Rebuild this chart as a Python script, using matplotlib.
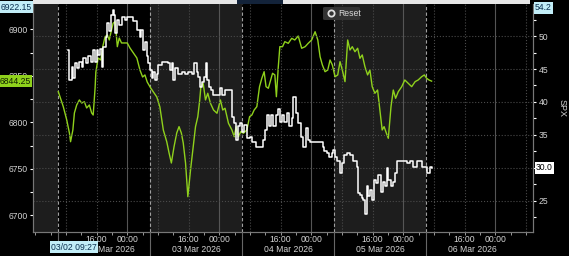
import matplotlib
matplotlib.use("Agg")
import matplotlib.pyplot as plt
from matplotlib.lines import Line2D
from matplotlib.patches import Rectangle, FancyBboxPatch
from matplotlib.ticker import MultipleLocator
from matplotlib.transforms import blended_transform_factory

plt.rcParams["font.family"] = ["Liberation Sans", "DejaVu Sans"]

# time axis: hours since 02 Mar 2026 00:00
spx_t = [
    6.0, 7.3, 8.2, 8.9, 9.2, 9.8, 10.2, 10.8, 11.5, 12.1,
    12.8, 13.4, 14.1, 14.7, 15.1, 15.6, 15.8, 16.4, 17.1, 17.6,
    18.2, 18.8, 19.3, 19.7, 20.3, 20.8, 21.1, 21.4, 21.9, 22.5,
    23.4, 24.0, 24.7, 25.6, 26.5, 27.3, 28.0, 28.6, 29.2, 30.1,
    30.8, 31.7, 32.5, 33.4, 34.3, 34.9, 35.5, 36.2, 36.9, 37.5,
    38.1, 38.6, 39.2, 39.8, 40.5, 41.2, 41.8, 42.4, 42.9, 43.2,
    43.8, 44.4, 45.0, 45.7, 46.5, 47.4, 48.3, 48.9, 49.5, 50.4,
    51.3, 51.9, 52.4, 53.0, 53.6, 54.3, 55.2, 55.9, 56.5, 57.1,
    57.8, 58.5, 59.1, 59.7, 60.2, 60.8, 61.4, 61.9, 62.5, 62.9,
    63.4, 63.8, 64.5, 65.1, 66.0, 66.9, 67.7, 68.6, 69.5, 70.4,
    71.2, 72.1, 73.0, 73.7, 74.3, 74.9, 75.6, 76.3, 76.9, 77.5,
    78.2, 78.9, 79.5, 80.1, 80.8, 81.5, 82.1, 82.7, 83.4, 84.1,
    84.7, 85.3, 86.0, 86.7, 87.3, 87.9, 88.6, 89.3, 89.9, 90.5,
    91.0, 91.6, 92.1, 92.8, 93.4, 94.0, 94.7, 95.6, 96.4, 97.3,
    98.2, 99.1, 99.9, 100.8, 101.5, 102.1, 102.7, 103.4,
]
spx_px = [
    6832.9, 6816.8, 6802.5, 6788.5, 6779.1, 6791.7, 6810.0, 6818.6, 6824.0, 6820.7,
    6822.1, 6815.4, 6818.6, 6810.0, 6807.8, 6836.9, 6854.1, 6869.1, 6867.0, 6881.3,
    6892.0, 6893.9, 6888.5, 6896.0, 6906.5, 6908.2, 6896.0, 6881.3, 6890.6, 6885.3,
    6885.3, 6885.3, 6879.9, 6874.5, 6869.1, 6856.2, 6848.7, 6850.9, 6843.3, 6836.9,
    6832.6, 6827.2, 6816.5, 6791.7, 6779.0, 6767.0, 6756.2, 6773.8, 6788.5, 6795.3,
    6788.5, 6777.7, 6756.2, 6720.0, 6748.7, 6773.8, 6795.3, 6806.0, 6824.0, 6838.3,
    6841.9, 6824.0, 6831.2, 6820.4, 6813.2, 6809.7, 6824.0, 6813.2, 6815.1, 6798.9,
    6791.7, 6784.5, 6795.3, 6784.5, 6789.9, 6788.2, 6791.7, 6806.0, 6807.8, 6813.2,
    6816.8, 6838.3, 6847.3, 6854.4, 6838.3, 6836.6, 6845.5, 6852.7, 6850.9, 6827.5,
    6859.8, 6881.3, 6881.3, 6886.7, 6884.9, 6890.3, 6888.5, 6892.8, 6879.6, 6881.3,
    6884.9, 6888.5, 6897.4, 6888.5, 6870.5, 6861.6, 6854.4, 6856.2, 6867.0, 6861.6,
    6849.0, 6850.9, 6865.2, 6856.2, 6843.7, 6888.5, 6877.7, 6881.3, 6875.9, 6879.6,
    6868.8, 6872.4, 6859.8, 6850.9, 6856.2, 6838.3, 6831.2, 6834.7, 6813.2, 6791.7,
    6795.3, 6788.2, 6782.8, 6816.8, 6834.7, 6825.8, 6832.9, 6838.3, 6845.5, 6841.9,
    6838.3, 6843.7, 6845.5, 6849.0, 6850.9, 6847.3, 6845.5, 6844.25,
]

vix_t = [
    8.6, 8.9, 9.5, 9.9, 10.4, 10.8, 11.5, 12.1, 12.5, 13.2,
    13.8, 14.5, 15.0, 15.6, 16.0, 16.4, 16.9, 17.3, 17.7, 18.4,
    18.8, 19.3, 19.7, 20.2, 20.5, 20.9, 21.4, 21.9, 22.5, 23.4,
    24.0, 24.7, 25.6, 26.3, 26.6, 27.2, 27.5, 28.0, 28.6, 29.1,
    29.5, 29.9, 30.4, 30.8, 31.2, 31.7, 32.1, 33.0, 33.8, 34.5,
    35.1, 35.6, 36.0, 36.5, 37.3, 38.2, 39.1, 39.9, 40.8, 41.5,
    42.1, 42.5, 43.0, 43.6, 44.1, 44.5, 44.7, 45.3, 45.8, 46.4,
    47.3, 48.2, 48.8, 49.5, 50.4, 51.2, 51.4, 51.9, 52.3, 52.8,
    53.4, 53.8, 54.5, 55.2, 56.0, 56.6, 57.5, 58.6, 59.5, 59.9,
    60.4, 61.0, 61.5, 62.1, 62.7, 63.2, 63.8, 64.4, 64.9, 65.6,
    66.2, 66.9, 67.3, 67.9, 68.6, 69.3, 69.9, 70.6, 71.2, 71.7,
    72.5, 73.4, 74.3, 75.0, 75.3, 76.0, 76.7, 77.3, 77.8, 78.2,
    78.8, 79.5, 79.9, 80.5, 81.2, 82.1, 82.8, 83.4, 84.0, 84.3,
    84.7, 85.2, 85.6, 86.0, 86.5, 86.9, 87.3, 87.8, 88.4, 88.9,
    89.5, 90.1, 90.6, 91.2, 91.7, 92.1, 92.7, 93.4, 93.8, 94.4,
    95.1, 96.0, 96.9, 97.7, 98.6, 99.5, 100.3, 101.0, 101.6, 102.1,
    102.9, 103.6,
]
vix_px = [
    47.9, 43.3, 45.3, 43.6, 45.9, 45.2, 46.1, 45.3, 46.6, 45.9,
    46.9, 46.1, 47.9, 46.1, 47.9, 47.1, 48.1, 45.3, 48.4, 49.9,
    51.9, 50.7, 53.2, 53.9, 53.2, 50.4, 52.4, 51.7, 52.9, 52.4,
    52.9, 52.9, 52.2, 52.2, 50.9, 49.9, 50.9, 47.9, 49.1, 46.9,
    45.9, 44.8, 43.6, 44.6, 43.3, 44.3, 45.6, 46.1, 46.1, 45.9,
    44.8, 45.9, 43.3, 45.1, 44.3, 44.6, 44.3, 44.6, 44.3, 45.9,
    44.6, 43.8, 42.3, 43.1, 43.8, 45.9, 43.3, 42.3, 41.8, 41.1,
    41.1, 42.1, 41.1, 41.8, 41.8, 41.8, 37.8, 36.8, 34.2, 36.3,
    36.8, 35.5, 36.5, 34.5, 34.7, 34.0, 33.2, 33.2, 34.2, 35.8,
    38.0, 36.3, 38.0, 36.3, 38.0, 39.0, 37.0, 38.0, 37.0, 38.3,
    36.3, 37.5, 40.8, 38.3, 36.8, 34.7, 33.2, 36.0, 34.2, 34.0,
    34.0, 34.0, 34.0, 33.2, 32.5, 32.2, 31.7, 32.2, 32.7, 31.7,
    31.0, 29.2, 30.7, 32.0, 32.2, 32.0, 31.0, 31.0, 30.2, 26.2,
    25.9, 25.4, 25.2, 23.1, 27.2, 25.7, 26.7, 25.2, 28.2, 27.7,
    28.9, 26.4, 27.9, 27.2, 30.0, 28.2, 27.2, 27.9, 29.2, 31.0,
    31.0, 31.0, 30.7, 31.0, 30.2, 31.0, 31.0, 30.2, 30.2, 29.2,
    30.2, 30.0,
]

day_labels = ["Mar 2026", "03 Mar 2026", "04 Mar 2026", "05 Mar 2026", "06 Mar 2026"]
hour_labels = ["16:00", "00:00"]
left_ticks = [6700, 6750, 6800, 6850, 6900]
right_ticks = [25, 30, 35, 40, 45, 50]

W, H = 569, 256
TXT = "#d4d4d4"
GRID = "#4a4a4a"


def fx(px):
    return px / W


def fy(py):
    return 1 - py / H


fig = plt.figure(figsize=(W / 100, H / 100), dpi=100, facecolor="black")
ax = fig.add_axes([fx(33), fy(232), fx(500), 228 / H])
ax.set_facecolor("black")
ax2 = ax.twinx()

ax.set_xlim(-0.6, 129.85)
ax.set_ylim(6682, 6927.2)
ax2.set_ylim(20.3, 54.85)

# alternating session shading, day boundaries at 06:00
for a, b in [(-0.6, 6), (30, 54), (78, 102)]:
    ax.axvspan(a, b, color="#1d1d1d", zorder=0, lw=0)
for k in range(5):
    ax.axvline(6 + 24 * k, color="#a0a0a0", ls=(0, (3, 2)), lw=0.8, zorder=1)
for k in range(6):
    ax.axvline(8 + 24 * k, color=GRID, ls=":", lw=0.8, zorder=1)
    ax.axvline(16 + 24 * k, color=GRID, ls=":", lw=0.8, zorder=1)
    ax.axvline(24 + 24 * k, color="#555555", lw=0.8, zorder=1)
for v in right_ticks:
    ax2.axhline(v, color=GRID, ls=":", lw=0.8, zorder=0)

ax.plot(spx_t, spx_px, color="#8fd11c", lw=1.0, zorder=3)
ax2.step(vix_t, vix_px, where="post", color="white", lw=1.1, zorder=4)

# axes cosmetics
for a in (ax, ax2):
    a.spines["top"].set_visible(False)
    for side in ("left", "right", "bottom"):
        a.spines[side].set_color("#777777")
        a.spines[side].set_linewidth(0.8)

ax.set_yticks(left_ticks)
ax.yaxis.set_minor_locator(MultipleLocator(25))
ax.tick_params(axis="y", which="both", colors="white", labelcolor=TXT,
               labelsize=6.2, length=2.5, width=0.8, pad=1.5)
ax2.set_yticks(right_ticks)
# the "30" label sits under the last-value tag, as in the terminal view
ax2.set_yticklabels(["" if v == round(vix_px[-1]) else str(v) for v in right_ticks])
ax2.yaxis.set_minor_locator(MultipleLocator(2.5))
ax2.tick_params(axis="y", which="both", colors="white", labelcolor=TXT,
                labelsize=6.2, length=2.5, width=0.8, pad=1.5)

ax.set_xticks([4 * i for i in range(33)])
ax.set_xticklabels([])
ax.tick_params(axis="x", colors="#999999", length=2, width=0.7)

xt = blended_transform_factory(ax.transData, ax.transAxes)
for k in range(5):
    ax.text(16 + 24 * k, -0.032, hour_labels[0], transform=xt, ha="center",
            va="center", color=TXT, fontsize=6.2, clip_on=False)
    ax.text(24 + 24 * k, -0.032, hour_labels[1], transform=xt, ha="center",
            va="center", color=TXT, fontsize=6.2, clip_on=False)
    if k == 0:
        # first date is partly hidden by the cursor time tag
        ax.text(16.4, -0.076, day_labels[k], transform=xt, ha="left",
                va="center", color=TXT, fontsize=6.2, clip_on=False)
    else:
        ax.text(18 + 24 * k, -0.076, day_labels[k], transform=xt, ha="center",
                va="center", color=TXT, fontsize=6.2, clip_on=False)

# separators under the time axis
for k in range(5):
    xpix = 58.3 + 24 * k * 3.833
    top = 240 if k == 0 else 256
    fig.add_artist(Line2D([fx(xpix), fx(xpix)], [fy(232), fy(top)],
                          color="#666666", lw=0.8))

# top strip / navigator
fig.add_artist(Rectangle((fx(33), fy(4)), fx(497), 4 / H, color="#e6e6e6", lw=0))
fig.add_artist(Rectangle((fx(237), fy(4)), fx(46), 4 / H, color="#13233a", lw=0))

# value tags
fig.text(fx(1), fy(7), "6922.15", color="#0b3050", fontsize=6.2, ha="left", va="center",
         bbox=dict(boxstyle="square,pad=0.15", fc="#c2eef8", ec="none"))
fig.text(fx(535), fy(8), "54.2", color="#0b3050", fontsize=6.2, ha="left", va="center",
         bbox=dict(boxstyle="square,pad=0.15", fc="#c2eef8", ec="none"))
yl = blended_transform_factory(ax.transAxes, ax.transData)
ax.text(-0.004, spx_px[-1], f"{spx_px[-1]:.2f}", transform=yl, ha="right", va="center",
        color="#102000", fontsize=6.2, clip_on=False, zorder=10,
        bbox=dict(boxstyle="square,pad=0.15", fc="#8fd11c", ec="none"))
yr = blended_transform_factory(ax2.transAxes, ax2.transData)
ax2.text(1.006, vix_px[-1], f"{vix_px[-1]:.1f}", transform=yr, ha="left", va="center",
         color="black", fontsize=6.2, clip_on=False, zorder=10,
         bbox=dict(boxstyle="square,pad=0.15", fc="white", ec="none"))
fig.text(fx(51), fy(247), "03/02 09:27", color="#0b3050", fontsize=6.2, ha="left",
         va="center", zorder=10,
         bbox=dict(boxstyle="square,pad=0.15", fc="#c2eef8", ec="none"))

fig.text(fx(562), fy(108), "SPX", color=TXT, fontsize=6.5, rotation=270,
         ha="center", va="center")

# reset button
fig.add_artist(FancyBboxPatch((fx(323), fy(20)), fx(37), 13 / H,
                              boxstyle="round,pad=0,rounding_size=0.004",
                              fc="#333333", ec="none"))
fig.add_artist(Line2D([fx(331)], [fy(13.3)], marker="o", ms=4.5, mfc="#333333",
                      mec="#e0e0e0", mew=1.3))
fig.text(fx(338), fy(13.3), "Reset", color="#d8d8d8", fontsize=6.2, ha="left", va="center")

fig.savefig("out.png", dpi=100, facecolor="black")
